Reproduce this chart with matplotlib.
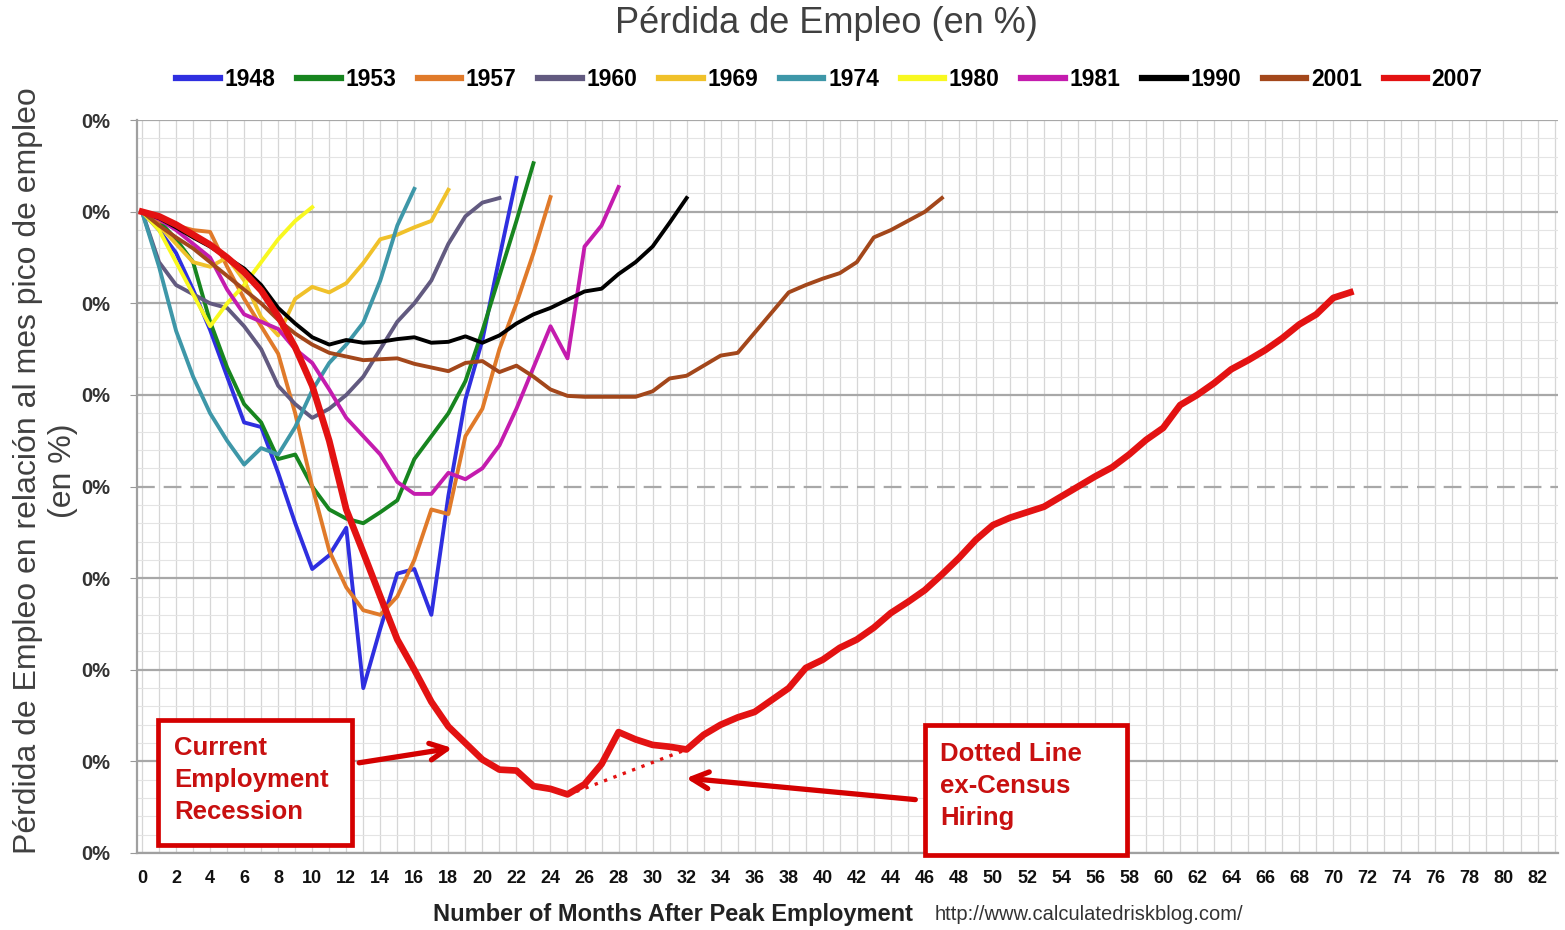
import numpy as np
import matplotlib.pyplot as plt
from matplotlib.patches import Rectangle

plt.rcParams['font.family'] = ['Liberation Sans', 'DejaVu Sans']

# job losses (% from peak employment month), one value per month after peak
y1948 = [0, -0.2, -0.45, -0.85, -1.29, -1.8, -2.3, -2.35, -2.85, -3.4, -3.9, -3.75,
         -3.45, -5.2, -4.55, -3.95, -3.9, -4.4, -3.1, -2.05, -1.4, -0.5, 0.37]
y1953 = [0, -0.1, -0.3, -0.55, -1.2, -1.7, -2.1, -2.3, -2.7, -2.65, -3.0, -3.25,
         -3.35, -3.4, -3.28, -3.15, -2.7, -2.45, -2.2, -1.85, -1.3, -0.7, -0.1, 0.53]
y1957 = [0, -0.1, -0.15, -0.2, -0.22, -0.6, -0.95, -1.25, -1.55, -2.2, -3.0, -3.7,
         -4.1, -4.35, -4.4, -4.2, -3.8, -3.25, -3.3, -2.45, -2.15, -1.5, -1.0, -0.45, 0.16]
y1960 = [0, -0.55, -0.8, -0.9, -1.0, -1.05, -1.25, -1.5, -1.9, -2.1, -2.25, -2.15,
         -2.0, -1.8, -1.5, -1.2, -1.0, -0.75, -0.35, -0.05, 0.1, 0.15]
y1969 = [0, -0.15, -0.35, -0.55, -0.6, -0.5, -0.75, -1.15, -1.35, -0.95, -0.82, -0.88,
         -0.78, -0.56, -0.3, -0.25, -0.17, -0.1, 0.24]
y1974 = [0, -0.6, -1.3, -1.8, -2.2, -2.5, -2.76, -2.58, -2.65, -2.35, -1.95, -1.65,
         -1.45, -1.21, -0.75, -0.15, 0.25]
y1980 = [0, -0.2, -0.55, -0.9, -1.25, -1.0, -0.8, -0.55, -0.3, -0.1, 0.05]
y1981 = [0, -0.08, -0.2, -0.35, -0.5, -0.85, -1.12, -1.2, -1.28, -1.5, -1.65, -1.94,
         -2.25, -2.45, -2.65, -2.95, -3.08, -3.08, -2.85, -2.92, -2.8, -2.55, -2.15,
         -1.7, -1.25, -1.6, -0.38, -0.15, 0.27]
y1990 = [0, -0.07, -0.17, -0.28, -0.38, -0.5, -0.62, -0.8, -1.05, -1.22, -1.37, -1.45,
         -1.4, -1.43, -1.42, -1.39, -1.37, -1.43, -1.42, -1.36, -1.43, -1.35, -1.22,
         -1.12, -1.05, -0.96, -0.87, -0.84, -0.68, -0.55, -0.38, -0.12, 0.15]
y2001 = [0, -0.15, -0.28, -0.4, -0.55, -0.7, -0.85, -1.0, -1.18, -1.33, -1.45, -1.54,
         -1.58, -1.62, -1.61, -1.6, -1.66, -1.7, -1.74, -1.65, -1.63, -1.75, -1.68,
         -1.8, -1.94, -2.01, -2.02, -2.02, -2.02, -2.02, -1.96, -1.82, -1.79, -1.68,
         -1.57, -1.54, -1.32, -1.1, -0.88, -0.8, -0.73, -0.67, -0.55, -0.28, -0.2,
         -0.1, 0.0, 0.15]
y2007 = [0, -0.05, -0.14, -0.25, -0.36, -0.5, -0.66, -0.86, -1.14, -1.48, -1.9, -2.5,
         -3.25, -3.72, -4.2, -4.67, -5.0, -5.35, -5.62, -5.8, -5.98, -6.09, -6.1,
         -6.27, -6.3, -6.36, -6.25, -6.03, -5.68, -5.76, -5.82, -5.84, -5.87, -5.71,
         -5.6, -5.52, -5.46, -5.33, -5.2, -4.98, -4.89, -4.76, -4.67, -4.54, -4.38,
         -4.26, -4.13, -3.96, -3.78, -3.58, -3.42, -3.34, -3.28, -3.22, -3.11, -3.0,
         -2.89, -2.79, -2.65, -2.49, -2.36, -2.11, -2.0, -1.87, -1.72, -1.62, -1.51,
         -1.38, -1.23, -1.12, -0.94, -0.88]
# ex-Census hiring (dotted segment)
census_months = [25.5, 32]
census_vals = [-6.33, -5.87]

series = [("1948", y1948, "#2f2fe0"),
          ("1953", y1953, "#17851f"),
          ("1957", y1957, "#e07a2a"),
          ("1960", y1960, "#625a80"),
          ("1969", y1969, "#f0c12a"),
          ("1974", y1974, "#3e97a8"),
          ("1980", y1980, "#f8f820"),
          ("1981", y1981, "#c41cae"),
          ("1990", y1990, "#000000"),
          ("2001", y2001, "#a3471b"),
          ("2007", y2007, "#e31212")]

yticks = [1, 0, -1, -2, -3, -4, -5, -6, -7]
ytick_labels = ["0%"] * len(yticks)
xticks = list(range(0, 83, 2))

fig = plt.figure(figsize=(15.65, 9.3), dpi=100)
ax = fig.add_axes([0.0875, 0.0828, 0.908, 0.788])

for name, vals, col in series:
    lw = 4.8 if name == "2007" else 2.8
    ax.plot(range(len(vals)), vals, color=col, lw=lw, label=name,
            solid_joinstyle='round', zorder=3)
ax.plot(census_months, census_vals, color="#e31212", lw=2.4, ls=(0, (1, 2)), zorder=3)

ax.set_xlim(-0.3, 83.2)
ax.set_ylim(-7, 1)
ax.set_xticks(xticks)
ax.set_xticks(range(0, 84), minor=True)
ax.set_yticks(yticks)
ax.set_yticks(np.arange(-7, 1.01, 0.2), minor=True)
ax.set_yticklabels(ytick_labels, fontweight='bold', fontsize=14.5, color="#333333")
ax.set_xticklabels([str(t) for t in xticks], fontweight='bold', fontsize=13, color="#111111")
ax.tick_params(axis='x', which='both', length=0, pad=12)
ax.tick_params(axis='y', which='major', length=5, color="#999999", pad=14)
ax.tick_params(axis='y', which='minor', length=0)

ax.grid(axis='x', which='both', color="#d6d6d6", lw=0.9)
ax.grid(axis='y', which='minor', color="#e4e4e4", lw=0.8)
ax.grid(axis='y', which='major', color="#a8a8a8", lw=1.6)
ax.get_ygridlines()[4].set_linestyle((0, (8, 4)))
ax.set_axisbelow(True)
for s in ['top', 'right']:
    ax.spines[s].set_visible(False)
for s in ['left', 'bottom']:
    ax.spines[s].set_color("#a0a0a0")
    ax.spines[s].set_linewidth(1.6)

# annotation boxes
red = "#d40000"
ax.add_patch(Rectangle((0.94, -6.91), 11.4, 1.36, fill=True, facecolor='white',
                       edgecolor=red, lw=3.4, zorder=4, clip_on=False))
ax.add_patch(Rectangle((46.0, -7.02), 11.87, 1.42, fill=True, facecolor='white',
                       edgecolor=red, lw=3.4, zorder=4, clip_on=False))
ax.text(1.9, -6.2, "Current\nEmployment\nRecession", color="#c81010", fontsize=18.5,
        fontweight='bold', va='center', ha='left', linespacing=1.42, zorder=5)
ax.text(46.9, -6.27, "Dotted Line\nex-Census\nHiring", color="#c81010", fontsize=18.5,
        fontweight='bold', va='center', ha='left', linespacing=1.42, zorder=5)
arrow = dict(arrowstyle='->', color=red, lw=3.8, mutation_scale=30)
ax.annotate("", xy=(18.4, -5.85), xytext=(12.6, -6.02), arrowprops=arrow, zorder=5)
ax.annotate("", xy=(31.8, -6.18), xytext=(45.6, -6.42), arrowprops=arrow, zorder=5)

leg = fig.legend(loc='center', bbox_to_anchor=(0.530, 0.914), ncol=11, frameon=False,
                 prop={'weight': 'bold', 'size': 16.5}, handlelength=1.9,
                 handletextpad=0.2, columnspacing=0.95)
for h in leg.legend_handles:
    h.set_linewidth(4.5)

fig.text(0.528, 0.975, "Pérdida de Empleo (en %)", ha='center', va='center',
         fontsize=26, color="#404040")
fig.text(0.029, 0.4935, "Pérdida de Empleo en relación al mes pico de empleo\n(en %)",
         rotation=90, ha='center', va='center', multialignment='center',
         fontsize=23, color="#404040", linespacing=1.2)
fig.text(0.43, 0.017, "Number of Months After Peak Employment", ha='center',
         va='center', fontsize=17, fontweight='bold', color="#222222")
fig.text(0.597, 0.017, "http://www.calculatedriskblog.com/", ha='left',
         va='center', fontsize=14.5, color="#333333")

plt.savefig("out.png", dpi=100)
